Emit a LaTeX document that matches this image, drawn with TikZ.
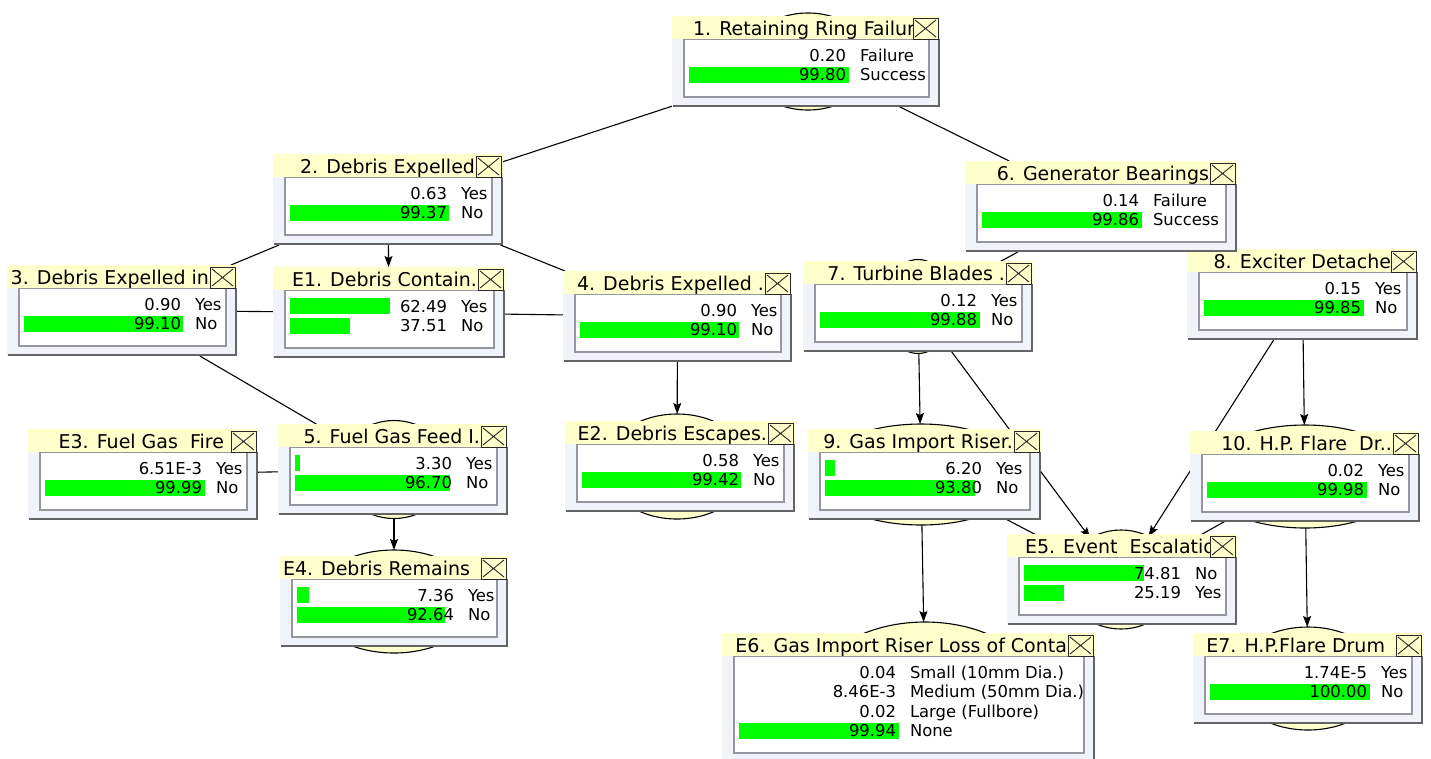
\documentclass[tikz,border=0pt]{standalone}
\usepackage{fontspec}
\setmainfont{DejaVu Sans}
\usetikzlibrary{arrows.meta,shapes.geometric}
\pgfdeclarelayer{bgfill}
\pgfdeclarelayer{links}
\pgfsetlayers{bgfill,links,main}
\definecolor{cYel}{RGB}{255,255,204}
\definecolor{cFrame}{RGB}{240,244,250}
\definecolor{cShadow}{RGB}{100,100,100}
\definecolor{cInner}{RGB}{150,150,160}
\definecolor{cGreen}{RGB}{0,255,0}
\definecolor{cXline}{RGB}{40,40,40}

\newcommand\bnbox[7]{% name, x0, y0, w, nrows, title, offset
  \pgfmathsetmacro\bnH{52+19.5*#5}%
  \pgfmathsetmacro\bnIW{#4-23}%
  \pgfmathsetmacro\bnIH{\bnH-33}%
  \node[bnFrameSty, minimum width=#4, minimum height=\bnH, anchor=north west] (#1) at (#2,#3) {};
  \draw[bnShadowSty] (#2+1,#3+\bnH-1.25) -- (#2+#4-1.25,#3+\bnH-1.25) -- (#2+#4-1.25,#3+23);
  \node[bnInnerSty, minimum width=\bnIW, minimum height=\bnIH, anchor=north west] (#1-in) at (#2+12,#3+23) {};
  \node[bnTitleSty, minimum width=#4, minimum height=23, anchor=north west] (#1-t) at (#2,#3) {};
  \begin{scope}
    \clip (#2,#3) rectangle (#2+#4-27,#3+23);
    \node[bnTTextSty, anchor=base east] (#1-tt) at (#2+#4-28+#7,#3+19) {#6};
  \end{scope}
  \node[bnXSty, anchor=north east] (#1-x) at (#2+#4-2,#3+2) {};
}
\newcommand\bnrow[7]{% name, x0, y0, i, pct, num, label
  \pgfmathsetmacro\bnRC{#3+39+19.5*(#4-1)}%
  \ifdim #5pt>1pt \fill[cGreen] (#2+17,\bnRC-8) rectangle (#2+17+1.6*#5,\bnRC+8); \fi
  \node[bnNumSty, anchor=base east] (#1-v#4) at (#2+174,\bnRC+6) {#6};
  \node[bnNumSty, anchor=base west] (#1-s#4) at (#2+188,\bnRC+6) {#7};
}

\begin{document}
\begin{tikzpicture}[x=1pt,y=-1pt,
  bnFrameSty/.style={rectangle, fill=cFrame, draw=none, inner sep=0pt, outer sep=0pt},
  bnShadowSty/.style={draw=cShadow, line width=2.5pt},
  bnInnerSty/.style={rectangle, fill=white, draw=cInner, line width=1.2pt, inner sep=0pt, outer sep=0pt},
  bnTitleSty/.style={rectangle, fill=cYel, draw=none, inner sep=0pt, outer sep=0pt},
  bnTTextSty/.style={inner sep=0pt, outer sep=0pt, font=\fontsize{19}{23}\selectfont},
  bnNumSty/.style={inner sep=0pt, outer sep=0pt, font=\fontsize{16.4}{19}\selectfont},
  bnXSty/.style={rectangle, draw=cXline, fill=cYel, line width=1pt, minimum width=25pt, minimum height=21pt, inner sep=0pt, outer sep=0pt,
    path picture={\draw[cXline, line width=0.9pt]
      ([shift={(2pt,-2pt)}]path picture bounding box.north west) -- ([shift={(-2pt,2pt)}]path picture bounding box.south east)
      ([shift={(2pt,2pt)}]path picture bounding box.south west) -- ([shift={(-2pt,-2pt)}]path picture bounding box.north east);}},
  bnEllSty/.style={ellipse, draw=black, fill=cYel, line width=1.1pt, inner sep=0pt, outer sep=0pt},
  bnLink/.style={draw=black, line width=1.1pt},
  bnArrow/.style={bnLink, -{Stealth[length=11pt,width=8pt,inset=2pt]}}
]
\useasboundingbox (0,0) rectangle (1431,758);
\begin{pgfonlayer}{bgfill}
  \fill[white] (0,0) rectangle (1431,758);
\end{pgfonlayer}

% ellipses
\node[bnEllSty, minimum width=128, minimum height=97] (n1e) at (808,61.5) {};
\node[bnEllSty, minimum width=110, minimum height=98] (n5e) at (394,469.5) {};
\node[bnEllSty, minimum width=165, minimum height=103] (e4e) at (394,601.5) {};
\node[bnEllSty, minimum width=144, minimum height=105] (e2e) at (677,466.5) {};
\node[bnEllSty, minimum width=70, minimum height=94] (n7e) at (918,306.5) {};
\node[bnEllSty, minimum width=210, minimum height=101] (n9e) at (921,474.5) {};
\node[bnEllSty, minimum width=210, minimum height=103] (n10e) at (1305,476.5) {};
\node[bnEllSty, minimum width=112, minimum height=99] (e5e) at (1121,579.5) {};
\node[bnEllSty, minimum width=232, minimum height=152] (e6e) at (925,698) {};
\node[bnEllSty, minimum width=150, minimum height=103] (e7e) at (1308,678.5) {};

% boxes
\bnbox{n1}{672}{16}{268}{2}{1. Retaining Ring Failur\rlap{e}}{3}
\bnrow{n1}{672}{16}{1}{0.20}{0.20}{Failure}
\bnrow{n1}{672}{16}{2}{99.80}{99.80}{Success}

\bnbox{n2}{273}{154}{230}{2}{2. Debris Expelled}{0}
\bnrow{n2}{273}{154}{1}{0.63}{0.63}{Yes}
\bnrow{n2}{273}{154}{2}{99.37}{99.37}{No}

\bnbox{n3}{7}{265}{230}{2}{3. Debris Expelled in}{0}
\bnrow{n3}{7}{265}{1}{0.90}{0.90}{Yes}
\bnrow{n3}{7}{265}{2}{99.10}{99.10}{No}

\bnbox{e1}{273}{267}{232}{2}{E1. Debris Contain.}{0}
\bnrow{e1}{273}{267}{1}{62.49}{62.49}{Yes}
\bnrow{e1}{273}{267}{2}{37.51}{37.51}{No}

\bnbox{n4}{563}{271}{229}{2}{4. Debris Expelled .}{0}
\bnrow{n4}{563}{271}{1}{0.90}{0.90}{Yes}
\bnrow{n4}{563}{271}{2}{99.10}{99.10}{No}

\bnbox{e3}{28}{429}{230}{2}{E3. Fuel Gas\ \ Fire}{-6}
\bnrow{e3}{28}{429}{1}{0.00651}{6.51E-3}{Yes}
\bnrow{e3}{28}{429}{2}{99.99}{99.99}{No}

\bnbox{n5}{278}{424}{230}{2}{5. Fuel Gas Feed I.}{0}
\bnrow{n5}{278}{424}{1}{3.30}{3.30}{Yes}
\bnrow{n5}{278}{424}{2}{96.70}{96.70}{No}

\bnbox{e4}{280}{556}{228}{2}{E4. Debris Remains}{-10}
\bnrow{e4}{280}{556}{1}{7.36}{7.36}{Yes}
\bnrow{e4}{280}{556}{2}{92.64}{92.64}{No}

\bnbox{e2}{565}{421}{230}{2}{E2. Debris Escapes.}{0}
\bnrow{e2}{565}{421}{1}{0.58}{0.58}{Yes}
\bnrow{e2}{565}{421}{2}{99.42}{99.42}{No}

\bnbox{n8}{1187}{249}{231}{2}{8. Exciter Detache\rlap{d}}{1}
\bnrow{n8}{1187}{249}{1}{0.15}{0.15}{Yes}
\bnrow{n8}{1187}{249}{2}{99.85}{99.85}{No}

\bnbox{n6}{965}{161}{272}{2}{6. Generator Bearings}{0}
\bnrow{n6}{965}{161}{1}{0.14}{0.14}{Failure}
\bnrow{n6}{965}{161}{2}{99.86}{99.86}{Success}

\bnbox{n7}{803}{261}{230}{2}{7. Turbine Blades .}{0}
\bnrow{n7}{803}{261}{1}{0.12}{0.12}{Yes}
\bnrow{n7}{803}{261}{2}{99.88}{99.88}{No}

\bnbox{n9}{808}{429}{233}{2}{9. Gas Import Riser.}{0}
\bnrow{n9}{808}{429}{1}{6.20}{6.20}{Yes}
\bnrow{n9}{808}{429}{2}{93.80}{93.80}{No}

\bnbox{n10}{1190}{431}{230}{2}{10. H.P. Flare\ \ Dr..}{0}
\bnrow{n10}{1190}{431}{1}{0.02}{0.02}{Yes}
\bnrow{n10}{1190}{431}{2}{99.98}{99.98}{No}

\bnbox{e5}{1007}{534}{230}{2}{E5. Event\ \ Escalatio\rlap{n}}{6}
\bnrow{e5}{1007}{534}{1}{74.81}{74.81}{No}
\bnrow{e5}{1007}{534}{2}{25.19}{25.19}{Yes}

\bnbox{e6}{722}{633}{373}{4}{E6. Gas Import Riser Loss of Conta\rlap{inment}}{0}
\bnrow{e6}{722}{633}{1}{0.04}{0.04}{Small (10mm Dia.)}
\bnrow{e6}{722}{633}{2}{0.00846}{8.46E-3}{Medium (50mm Dia.)}
\bnrow{e6}{722}{633}{3}{0.02}{0.02}{Large (Fullbore)}
\bnrow{e6}{722}{633}{4}{99.94}{99.94}{None}

\bnbox{e7}{1193}{633}{230}{2}{E7. H.P.Flare Drum}{-10}
\bnrow{e7}{1193}{633}{1}{0.0000174}{1.74E-5}{Yes}
\bnrow{e7}{1193}{633}{2}{100.00}{100.00}{No}

% links
\begin{pgfonlayer}{links}
  \draw[bnLink] (n1e) -- (n2);
  \draw[bnLink] (n1e) -- (n6);
  \draw[bnLink] (n2) -- (n3);
  \draw[bnLink] (n2) -- (n4);
  \draw[bnArrow] (n2) -- (e1);
  \draw[bnLink] (n3) -- (e1);
  \draw[bnLink] (n4) -- (e1);
  \draw[bnLink] (n3) -- (n5e);
  \draw[bnLink] (n5e) -- (e3);
  \draw[bnArrow] (n5e) -- (e4e);
  \draw[bnArrow] (n4) -- (e2e);
  \draw[bnLink] (n6) -- (n7e);
  \draw[bnLink] (n6) -- (n8);
  \draw[bnArrow] (n7e) -- (n9e);
  \draw[bnArrow] (n7e) -- (e5e);
  \draw[bnArrow] (n8) -- (n10e);
  \draw[bnArrow] (n8) -- (e5e);
  \draw[bnLink] (n9e) -- (e5e);
  \draw[bnLink] (n10e) -- (e5e);
  \draw[bnArrow] (n9e) -- (e6e);
  \draw[bnArrow] (n10e) -- (e7e);
\end{pgfonlayer}
\end{tikzpicture}
\end{document}
